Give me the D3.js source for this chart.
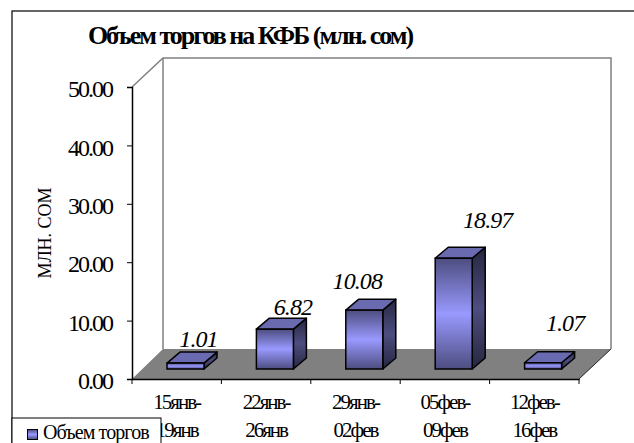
<!DOCTYPE html>
<html>
<head>
<meta charset="utf-8">
<script src="https://cdn.jsdelivr.net/npm/d3@7"></script>
<style>
  html, body { margin: 0; padding: 0; background: #fff; overflow: hidden; }
  text { font-family: "Liberation Serif", serif; fill: #000; }
</style>
</head>
<body>
<div id="chart"></div>
<script>
// Chart data
const categories = ["15янв-|19янв", "22янв-|26янв", "29янв-|02фев", "05фев-|09фев", "12фев-|16фев"];
const values = [1.01, 6.82, 10.08, 18.97, 1.07];
const yTicks = [0, 10, 20, 30, 40, 50];
const titleText = "Объем торгов на КФБ (млн. сом)";
const yTitle = "МЛН. СОМ";
const legendText = "Объем торгов";

// SVG variables
const width = 634;
const height = 443;
const left = 132, right = 579, top_ = 87, bottom = 379;
const depthX = 31, depthY = 30;      // depth of the 3d box
const barDepthX = 13, barDepthY = 11;
const barWidth = 37;
const barLift = 10;

const svg = d3.select("#chart")
    .append("svg")
    .attr("width", width)
    .attr("height", height)
    .style("display", "block");

const x = d3.scaleBand().domain(categories).range([left, right]);
const y = d3.scaleLinear().domain([0, 50]).range([bottom, top_]);

// Gradients
const addGradient = (id, stops) => {
    const g = svg.append("defs").append("linearGradient")
        .attr("id", id)
        .attr("x1", 0).attr("x2", 0).attr("y1", 0).attr("y2", 1);
    stops.forEach(([o, c]) => g.append("stop").attr("offset", o).attr("stop-color", c));
};
addGradient("front", [[0, "#4d4d80"], [0.5, "#9999ff"], [1, "#4d4d80"]]);
addGradient("side", [[0, "#262640"], [0.5, "#4d4d80"], [1, "#262640"]]);

// Outer frame, runs past the right and bottom of the window
svg.append("rect")
    .attr("x", 12).attr("y", 11)
    .attr("width", 700).attr("height", 500)
    .attr("fill", "#fff")
    .attr("stroke", "#000")
    .attr("stroke-width", 1.2);

// Title
svg.append("text")
    .attr("x", 250).attr("y", 44)
    .attr("text-anchor", "middle")
    .attr("font-size", 26)
    .attr("font-weight", "bold")
    .attr("letter-spacing", -2)
    .text(titleText);

// Walls and floor
const line = d3.line();
svg.append("path")
    .attr("d", line([[left, bottom], [left + depthX, bottom - depthY], [right + depthX + 1, bottom - depthY], [right, bottom]]) + "Z")
    .attr("fill", "#808080");
svg.append("path")
    .attr("d", line([[left, top_], [left + depthX, top_ - depthY + 1], [right + depthX + 1, top_ - depthY + 1], [right + depthX + 1, bottom - depthY]]))
    .attr("fill", "none")
    .attr("stroke", "#808080")
    .attr("stroke-width", 1.5);
svg.append("path")
    .attr("d", line([[left + depthX, top_ - depthY + 1], [left + depthX, bottom - depthY]]))
    .attr("fill", "none")
    .attr("stroke", "#808080")
    .attr("stroke-width", 1.5);
svg.append("path")
    .attr("d", line([[right, bottom], [right + depthX + 1, bottom - depthY]]))
    .attr("fill", "none")
    .attr("stroke", "#000")
    .attr("stroke-width", 0.8);

// Axes
const yAxis = svg.append("g")
    .attr("transform", `translate(${left},0)`)
    .call(d3.axisLeft(y).tickValues(yTicks).tickSize(5).tickPadding(15).tickFormat(d3.format(".2f")));
yAxis.selectAll("text")
    .attr("font-size", 24)
    .attr("letter-spacing", -2)
    .attr("y", 2)
    .style("font-family", '"Liberation Serif", serif');

const xAxis = svg.append("g")
    .attr("transform", `translate(0,${bottom})`)
    .call(d3.axisBottom(x).tickValues([]).tickSizeOuter(0));
xAxis.selectAll(".tick-mark")
    .data(d3.range(categories.length + 1))
    .join("line")
    .attr("class", "tick-mark")
    .attr("stroke", "#000")
    .attr("x1", i => left + i * x.step())
    .attr("x2", i => left + i * x.step())
    .attr("y1", 0)
    .attr("y2", 5);
svg.selectAll(".domain").attr("stroke", "#000").attr("stroke-width", 1.5);
yAxis.selectAll(".tick line").attr("stroke", "#000");

// Category labels
const catLabel = svg.append("g").selectAll("text")
    .data(categories)
    .join("text")
    .attr("text-anchor", "middle")
    .attr("font-size", 21)
    .attr("letter-spacing", -2);
catLabel.append("tspan")
    .attr("x", d => x(d) + x.bandwidth() / 2)
    .attr("y", 409)
    .text(d => d.split("|")[0]);
catLabel.append("tspan")
    .attr("x", d => x(d) + x.bandwidth() / 2)
    .attr("y", 437)
    .text(d => d.split("|")[1]);

// Y title
svg.append("text")
    .attr("transform", "translate(51,233) rotate(-90)")
    .attr("text-anchor", "middle")
    .attr("font-size", 18)
    .text(yTitle);

// Bars
const barX = d => x(d) + 35;
const barBase = bottom - barLift;
const bars = svg.append("g").selectAll("g")
    .data(values)
    .join("g");
const topY = d => barBase - (bottom - y(d));

bars.append("path")   // side
    .attr("d", (d, i) => {
        const xr = barX(categories[i]) + barWidth;
        return line([[xr, topY(d)], [xr + barDepthX, topY(d) - barDepthY], [xr + barDepthX, barBase - barDepthY], [xr, barBase]]) + "Z";
    })
    .attr("fill", "url(#side)")
    .attr("stroke", "#000")
    .attr("stroke-width", 1.5)
    .attr("stroke-linejoin", "round");
bars.append("path")   // top
    .attr("d", (d, i) => {
        const xl = barX(categories[i]);
        return line([[xl, topY(d)], [xl + barDepthX, topY(d) - barDepthY], [xl + barWidth + barDepthX, topY(d) - barDepthY], [xl + barWidth, topY(d)]]) + "Z";
    })
    .attr("fill", "#6a6ab0")
    .attr("stroke", "#000")
    .attr("stroke-width", 1.5)
    .attr("stroke-linejoin", "round");
bars.append("rect")   // front
    .attr("x", (d, i) => barX(categories[i]))
    .attr("y", d => topY(d))
    .attr("width", barWidth)
    .attr("height", d => barBase - topY(d))
    .attr("fill", "url(#front)")
    .attr("stroke", "#000")
    .attr("stroke-width", 1.5);

// Value labels (moved by hand in the original chart)
const labelDx = [17, 22, -3, 38, 26];
const labelDy = [-16, -14, -21, -30, -32];
svg.append("g").selectAll("text")
    .data(values)
    .join("text")
    .attr("x", (d, i) => barX(categories[i]) + labelDx[i] + barWidth / 2 - 4)
    .attr("y", (d, i) => topY(d) + labelDy[i])
    .attr("text-anchor", "middle")
    .attr("font-size", 24)
    .attr("font-style", "italic")
    .attr("letter-spacing", -0.9)
    .text(d => d.toFixed(2));

// Legend
svg.append("rect")
    .attr("x", 12).attr("y", 418)
    .attr("width", 149).attr("height", 40)
    .attr("fill", "#fff")
    .attr("stroke", "#000")
    .attr("stroke-width", 1);
svg.append("rect")
    .attr("x", 27.5).attr("y", 429.5)
    .attr("width", 10).attr("height", 10)
    .attr("fill", "url(#front)")
    .attr("stroke", "#000")
    .attr("stroke-width", 1);
svg.append("text")
    .attr("x", 43).attr("y", 439)
    .attr("font-size", 20)
    .attr("letter-spacing", -0.9)
    .text(legendText);
</script>
</body>
</html>
